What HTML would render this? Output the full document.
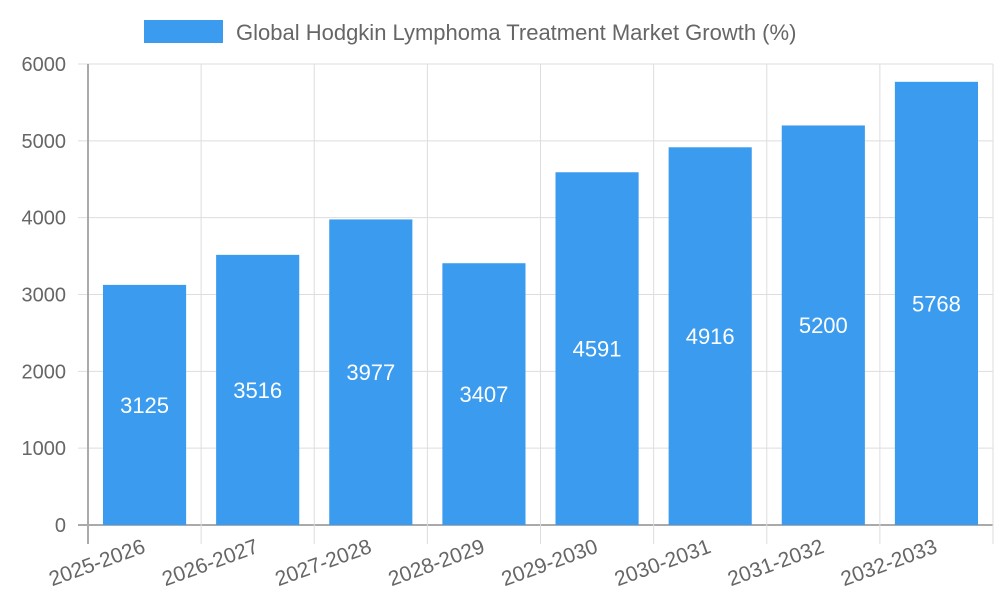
<!DOCTYPE html>
<html><head><meta charset="utf-8"><style>
html,body{margin:0;padding:0;background:#fff;}
svg{display:block;font-family:"Liberation Sans",Arial,sans-serif;}
</style></head><body>
<svg id="chart" width="1000" height="600" viewBox="0 0 1000 600">
<g id="legend">
<rect x="144" y="20" width="79" height="23" fill="#3a9bef"/>
<text x="236" y="40" font-size="22" fill="#666">Global Hodgkin Lymphoma Treatment Market Growth (%)</text>
</g>
<g id="grid"></g>
<g id="bars"></g>
<g id="axes"></g>
</svg>
<script>
const categories = ["2025-2026","2026-2027","2027-2028","2028-2029","2029-2030","2030-2031","2031-2032","2032-2033"];
const values = [3125,3516,3977,3407,4591,4916,5200,5768];
const yTicks = [0,1000,2000,3000,4000,5000,6000];
const NS="http://www.w3.org/2000/svg";
const L=88,R=993,T=64,B=525,yMax=6000;
const bw=(R-L)/categories.length;
const y=v=>B-(v/yMax)*(B-T);
const x=i=>L+i*bw;
function mk(tag,attrs,parent){const e=document.createElementNS(NS,tag);for(const k in attrs)e.setAttribute(k,attrs[k]);parent.appendChild(e);return e;}
const grid=document.getElementById('grid'),bars=document.getElementById('bars'),axes=document.getElementById('axes');
yTicks.forEach(t=>{
  const ln=mk('line',{x1:L-10,x2:R,y1:y(t),y2:y(t),stroke:t===0?'#aaa':'#ddd','stroke-width':t===0?2:1},grid);
  
  
  const tx=mk('text',{x:L-22,y:y(t)+7,'text-anchor':'end','font-size':20,fill:'#666'},axes);
  tx.textContent=t;
  
  
});
for(let i=0;i<=categories.length;i++){
  const ln=mk('line',{x1:x(i),x2:x(i),y1:T,y2:B+19,stroke:i===0?'#aaa':'#ddd','stroke-width':i===0?2:1},grid);
  
  
}
categories.forEach((c,i)=>{
  const bx=x(i)+15,w=bw-30,v=values[i];
  const r=mk('rect',{x:bx,y:y(v),width:w,height:B-y(v),fill:'#3a9bef'},bars);
  
  
  const vl=mk('text',{x:bx+w/2,y:(y(v)+B)/2+8,'text-anchor':'middle','font-size':22,fill:'#fff'},bars);
  vl.textContent=v;
  
  
  const cx=x(i)+bw/2+2, cy=552;
  const xl=mk('text',{x:cx,y:cy,'text-anchor':'end','font-size':21,fill:'#666',transform:`rotate(-20 ${cx} ${cy})`},axes);
  xl.textContent=c;
  
  
});
</script>
</body></html>
